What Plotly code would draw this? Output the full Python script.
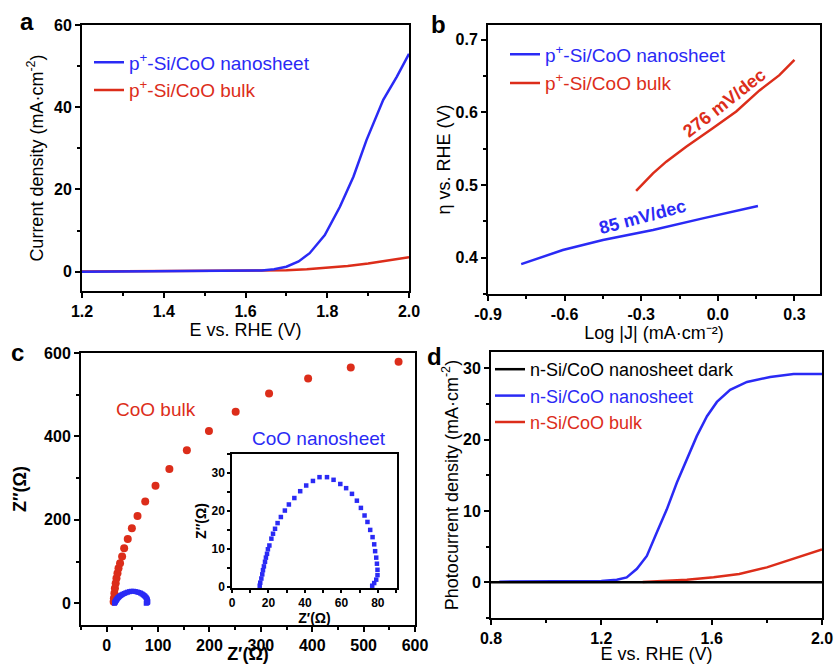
import plotly.graph_objects as go

W, H = 834, 664
FONT = "Liberation Sans, Arial, sans-serif"
BLUE = "#2a2af5"
RED = "#dc2d1a"
BLACK = "#000000"

# ---------------- data ----------------
# panel a: LSV of p+-Si/CoO electrodes
a_nano_E = [1.20, 1.30, 1.40, 1.50, 1.60, 1.64, 1.67, 1.70, 1.73, 1.757, 1.794, 1.831, 1.864, 1.896, 1.937, 1.97, 2.00]
a_nano_J = [0.0, 0.05, 0.1, 0.15, 0.2, 0.3, 0.6, 1.2, 2.5, 4.5, 8.9, 15.8, 23.1, 32.0, 41.8, 47.4, 53.0]
a_bulk_E = [1.20, 1.40, 1.60, 1.70, 1.75, 1.80, 1.85, 1.90, 1.95, 2.00]
a_bulk_J = [0.05, 0.1, 0.2, 0.35, 0.6, 1.0, 1.4, 2.0, 2.7, 3.5]

# panel b: Tafel plots
b_nano_logJ = [-0.77, -0.70, -0.607, -0.45, -0.254, -0.059, 0.05, 0.157]
b_nano_eta = [0.391, 0.399, 0.4105, 0.4243, 0.438, 0.454, 0.463, 0.471]
b_bulk_logJ = [-0.32, -0.254, -0.202, -0.124, -0.02, 0.072, 0.163, 0.241, 0.30]
b_bulk_eta = [0.492, 0.516, 0.532, 0.5525, 0.578, 0.601, 0.630, 0.651, 0.672]
b_slope_labels = ["85 mV/dec", "276 mV/dec"]
b_xtick_vals = [-0.9, -0.6, -0.3, 0.0, 0.3]
b_xtick_text = ["-0.9", "-0.6", "-0.3", "0.0", "0.3"]

# panel c: Nyquist plots
c_bulk_re = [13.5, 14, 15, 16, 17.5, 19, 21, 23, 26, 30, 34, 41, 49, 60, 75, 95, 122, 156, 199, 251, 316, 392, 475, 568]
c_bulk_im = [4, 12, 24, 36, 48, 60, 72, 84, 96, 112, 132, 154, 180, 209, 244, 282, 322, 367, 413, 459, 503, 539, 565, 579]
c_nano_re = [15.2, 15.5, 16.1, 16.6, 17.0, 17.5, 18.1, 18.6, 19.2, 19.7, 20.5, 21.6, 22.5, 23.6, 25.0, 26.8, 29.0,
             31.2, 34.2, 37.4, 40.7, 44.4, 48.0, 52.1, 55.7, 59.4, 62.6, 65.8, 68.5, 70.7, 72.7, 74.3, 75.8, 77.1,
             78.0, 78.5, 79.1, 79.5, 79.8, 79.8, 79.1, 78.0, 76.9]
c_nano_im = [0.3, 1.1, 2.2, 3.3, 4.4, 5.4, 6.6, 7.7, 8.7, 9.9, 10.9, 12.7, 14.0, 15.3, 16.8, 18.4, 20.1,
             21.7, 23.4, 25.2, 26.7, 27.9, 28.9, 28.9, 28.2, 27.1, 26.0, 24.5, 22.7, 20.8, 18.8, 17.1, 15.0, 13.1,
             11.2, 9.4, 7.7, 6.1, 4.5, 3.1, 1.9, 1.0, 0.3]

# panel d: photocurrent of n-Si/CoO photoanodes
d_dark_E = [0.80, 2.00]
d_dark_J = [0.0, 0.0]
d_nano_E = [0.83, 1.00, 1.20, 1.256, 1.292, 1.329, 1.365, 1.401, 1.437, 1.474, 1.510, 1.546, 1.583, 1.619,
            1.667, 1.728, 1.812, 1.897, 2.00]
d_nano_J = [0.1, 0.15, 0.2, 0.37, 0.7, 1.9, 3.7, 7.0, 10.2, 14.0, 17.2, 20.5, 23.3, 25.3, 27.0, 28.1, 28.8, 29.2, 29.2]
d_bulk_E = [1.35, 1.42, 1.51, 1.607, 1.70, 1.80, 1.897, 2.00]
d_bulk_J = [0.05, 0.15, 0.37, 0.7, 1.16, 2.1, 3.3, 4.6]


def dx(l, r):
    return [l / W, r / W]


def dy(t, b):
    return [1 - b / H, 1 - t / H]


def px(x):
    return x / W


def py(y):
    return 1 - y / H


def colored(text, color):
    return f"<span style='color:{color}'>{text}</span>"


fig = go.Figure()

# ---- panel a ----
fig.add_trace(go.Scatter(x=a_bulk_E, y=a_bulk_J, mode="lines", line=dict(color=RED, width=2.5),
                         name=colored("p<sup>+</sup>-Si/CoO bulk", RED), xaxis="x", yaxis="y",
                         legend="legend", legendrank=2, legendgroup="a2"))
fig.add_trace(go.Scatter(x=a_nano_E, y=a_nano_J, mode="lines", line=dict(color=BLUE, width=2.5),
                         name=colored("p<sup>+</sup>-Si/CoO nanosheet", BLUE), xaxis="x", yaxis="y",
                         legend="legend", legendrank=1, legendgroup="a1"))

# ---- panel b ----
fig.add_trace(go.Scatter(x=b_nano_logJ, y=b_nano_eta, mode="lines", line=dict(color=BLUE, width=2.5),
                         name=colored("p<sup>+</sup>-Si/CoO nanosheet", BLUE), xaxis="x2", yaxis="y2",
                         legend="legend2", legendrank=1, legendgroup="b1"))
fig.add_trace(go.Scatter(x=b_bulk_logJ, y=b_bulk_eta, mode="lines", line=dict(color=RED, width=2.5),
                         name=colored("p<sup>+</sup>-Si/CoO bulk", RED), xaxis="x2", yaxis="y2",
                         legend="legend2", legendrank=2, legendgroup="b2"))

# ---- panel c ----
fig.add_trace(go.Scatter(x=c_bulk_re, y=c_bulk_im, mode="markers",
                         marker=dict(color=RED, size=8, symbol="circle"),
                         name="CoO bulk", showlegend=False, xaxis="x3", yaxis="y3"))
fig.add_trace(go.Scatter(x=c_nano_re, y=c_nano_im, mode="markers",
                         marker=dict(color=BLUE, size=5, symbol="square"),
                         name="CoO nanosheet", showlegend=False, xaxis="x3", yaxis="y3"))
fig.add_trace(go.Scatter(x=c_nano_re, y=c_nano_im, mode="markers",
                         marker=dict(color=BLUE, size=4.5, symbol="square"),
                         name="CoO nanosheet (inset)", showlegend=False, xaxis="x5", yaxis="y5"))

# ---- panel d ----
fig.add_trace(go.Scatter(x=d_nano_E, y=d_nano_J, mode="lines", line=dict(color=BLUE, width=2.5),
                         name=colored("n-Si/CoO nanosheet", BLUE), xaxis="x4", yaxis="y4",
                         legend="legend3", legendrank=2, legendgroup="d2"))
fig.add_trace(go.Scatter(x=d_bulk_E, y=d_bulk_J, mode="lines", line=dict(color=RED, width=2.5),
                         name=colored("n-Si/CoO bulk", RED), xaxis="x4", yaxis="y4",
                         legend="legend3", legendrank=3, legendgroup="d3"))
fig.add_trace(go.Scatter(x=d_dark_E, y=d_dark_J, mode="lines", line=dict(color=BLACK, width=2.5),
                         name="n-Si/CoO nanosheet dark", xaxis="x4", yaxis="y4",
                         legend="legend3", legendrank=1, legendgroup="d1"))

TICKFONT = dict(family=FONT, size=16, color="black", weight="bold")
TITLEFONT = dict(family=FONT, size=18, color="black")
BOLDTITLE = dict(family=FONT, size=18, color="black", weight="bold")


def axis(domain, rng, dtick, minor_dtick, anchor, title, standoff, tick0=None, tickfont=TICKFONT,
         titlefont=TITLEFONT, lw=2, ticklen=5, fmt=None):
    d = dict(domain=domain, range=rng, dtick=dtick, anchor=anchor, automargin=False,
             showline=True, linewidth=lw, linecolor="black", mirror=True,
             ticks="outside", ticklen=ticklen, tickwidth=1.5, tickcolor="black",
             showgrid=False, zeroline=False, tickfont=tickfont,
             minor=dict(dtick=minor_dtick, ticks="outside", ticklen=3, tickwidth=1.5, tickcolor="black",
                        showgrid=False),
             title=dict(text=title, font=titlefont, standoff=standoff))
    if tick0 is not None:
        d["tick0"] = tick0
        d["minor"]["tick0"] = tick0
    if fmt:
        d["tickformat"] = fmt
    return d


MA = "(mA·cm<sup>-2</sup>)"
INSET_TICK = dict(family=FONT, size=12, color="black", weight="bold")
INSET_TITLE = dict(family=FONT, size=14, color="black", weight="bold")

xaxis2 = axis(dx(488, 820), [-0.9, 0.4], 0.3, 0.15, "y2", "Log |J| (mA·cm⁻²)", 0, tick0=-0.9)
xaxis2.update(tickmode="array", tickvals=b_xtick_vals, ticktext=b_xtick_text)

layout = dict(
    width=W, height=H, margin=dict(l=0, r=0, t=0, b=0, autoexpand=False),
    paper_bgcolor="white", plot_bgcolor="rgba(0,0,0,0)",
    font=dict(family=FONT, color="black"),
    xaxis=axis(dx(82, 409), [1.2, 2.0], 0.2, 0.1, "y", "E vs. RHE (V)", 4, tick0=1.2, fmt=".1f"),
    yaxis=axis(dy(25, 291), [-4.7, 60], 20, 10, "x", "Current density " + MA, 6, tick0=0),
    xaxis2=xaxis2,
    yaxis2=axis(dy(25, 294), [0.35, 0.72], 0.1, 0.05, "x2", "η vs. RHE (V)", 0, tick0=0.4, fmt=".1f"),
    xaxis3=axis(dx(81, 415), [-50, 600], 100, 50, "y3", "Z′(Ω)", 0, tick0=0, titlefont=BOLDTITLE),
    yaxis3=axis(dy(353, 625), [-52, 600], 200, 100, "x3", "Z″(Ω)", 13, tick0=0, titlefont=BOLDTITLE),
    xaxis4=axis(dx(491, 822), [0.8, 2.0], 0.4, 0.2, "y4", "E vs. RHE (V)", 2, tick0=0.8, fmt=".1f"),
    yaxis4=axis(dy(352, 618), [-5, 32.3], 10, 5, "x4", "Photocurrent density " + MA, 0, tick0=0),
    xaxis5=axis(dx(232, 397), [0, 90.5], 20, 10, "y5", "Z′(Ω)", 0, tick0=0,
                tickfont=INSET_TICK, titlefont=INSET_TITLE, lw=1.5, ticklen=3),
    yaxis5=axis(dy(454, 588), [-0.3, 35], 10, 5, "x5", "Z″(Ω)", 2, tick0=0,
                tickfont=INSET_TICK, titlefont=INSET_TITLE, lw=1.5, ticklen=3),
    legend=dict(x=px(129 - 40), y=py(63 - 19.5), xanchor="left", yanchor="top", bgcolor="rgba(0,0,0,0)",
                font=dict(family=FONT, size=19), tracegroupgap=0, traceorder="grouped"),
    legend2=dict(x=px(545 - 40), y=py(55 - 19.5), xanchor="left", yanchor="top", bgcolor="rgba(0,0,0,0)",
                 font=dict(family=FONT, size=19), tracegroupgap=1, traceorder="grouped"),
    legend3=dict(x=px(530 - 40), y=py(370 - 19), xanchor="left", yanchor="top", bgcolor="rgba(0,0,0,0)",
                 font=dict(family=FONT, size=18), tracegroupgap=0, traceorder="grouped"),
    showlegend=True,
)
fig.update_layout(**layout)

ann = []
for letter, (x, y) in zip(["a", "b", "c", "d"], [(27, 22), (439, 24), (17, 352), (434, 356)]):
    ann.append(dict(text=f"<b>{letter}</b>", x=px(x), y=py(y), xref="paper", yref="paper",
                    xanchor="center", yanchor="middle",
                    showarrow=False, font=dict(family=FONT, size=24, color="black")))
ann.append(dict(text=f"<b>{b_slope_labels[0]}</b>", x=-0.295, y=0.456, xref="x2", yref="y2", showarrow=False,
                textangle=-15, font=dict(family=FONT, size=18, color=BLUE)))
ann.append(dict(text=f"<b>{b_slope_labels[1]}</b>", x=0.026, y=0.6125, xref="x2", yref="y2", showarrow=False,
                textangle=-38, font=dict(family=FONT, size=18, color=RED)))
ann.append(dict(text="CoO bulk", x=96, y=465, xref="x3", yref="y3", showarrow=False,
                font=dict(family=FONT, size=19, color=RED)))
ann.append(dict(text="CoO nanosheet", x=413, y=395, xref="x3", yref="y3", showarrow=False,
                font=dict(family=FONT, size=19, color=BLUE)))
fig.update_layout(annotations=ann)

fig.write_html("out.html")
